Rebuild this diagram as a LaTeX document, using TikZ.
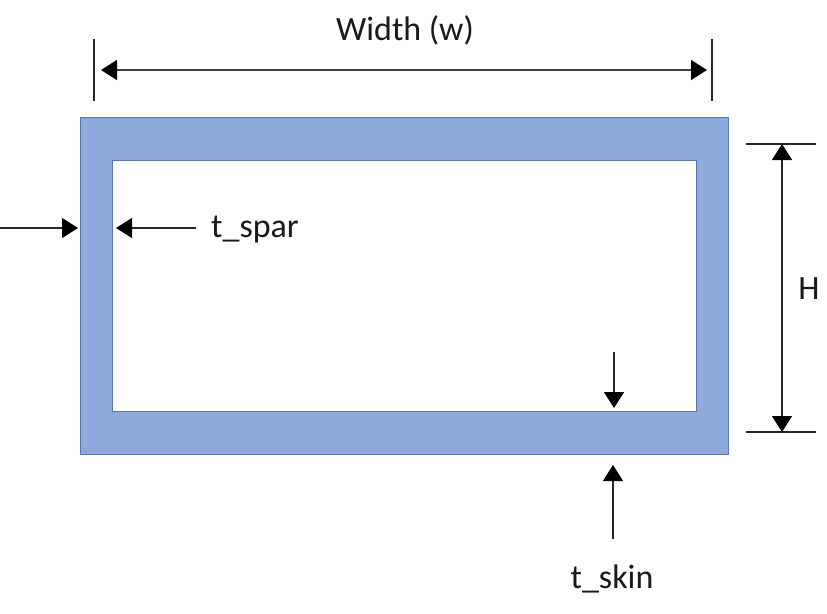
\documentclass[tikz,border=0pt]{standalone}
\usepackage{fontspec}
\setmainfont{Carlito}
\usetikzlibrary{arrows.meta}
\definecolor{barfill}{HTML}{8EA9DE}
\definecolor{baredge}{HTML}{5B76A8}
\tikzset{
 bigtip/.tip={Triangle[length=16pt,width=20pt,color=black]},
 dim/.style={draw=black!75,line width=1.5pt,bigtip-bigtip},
 dimthin/.style={draw=black!85,line width=1.1pt,bigtip-bigtip},
 lead/.style={draw=black!85,line width=1.1pt,-bigtip},
 tick/.style={draw=black!85,line width=1.1pt},
 lab/.style={font=\fontsize{34pt}{38pt}\selectfont,inner sep=0pt,anchor=base,text=black!90}}
\begin{document}
\begin{tikzpicture}[x=1pt,y=-1pt]
\useasboundingbox (0,0) rectangle (827,613);
\fill[white] (0,0) rectangle (827,613);
\path[draw=baredge,line width=0.8pt,fill=barfill] (80.5,117) rectangle (728,454.5);
\path[draw=baredge,line width=0.8pt,fill=white] (112,160) rectangle (696,411);
% width dimension
\coordinate (wl) at (101,70); \coordinate (wr) at (707,70);
\draw[tick] (94,39)--(94,101);
\draw[tick] (712,39)--(712,101);
\draw[dim] (wl)--(wr);
\node[lab] (w) at (405,40) {Width (w)};
% height dimension
\coordinate (ht) at (782,144); \coordinate (hb) at (782,432);
\draw[tick] (746,144)--(816,144);
\draw[tick] (746,432)--(816,432);
\draw[dimthin] (ht)--(hb);
\node[lab] (h) at (809,299) {H};
% spar thickness
\node[lab] (ts) at (255,237) {t\_spar};
\coordinate (a) at (0,228); \coordinate (ae) at (78,228);
\draw[lead] (a)--(ae);
\coordinate (bs) at (196,228); \coordinate (be) at (116,228);
\draw[lead] (bs)--(be);
% skin thickness
\coordinate (c) at (614,352); \coordinate (ce) at (614,408);
\draw[lead] (c)--(ce);
\coordinate (d) at (613,539); \coordinate (de) at (613,465);
\draw[lead] (d)--(de);
\node[lab] (tk) at (612,588) {t\_skin};
\end{tikzpicture}
\end{document}
